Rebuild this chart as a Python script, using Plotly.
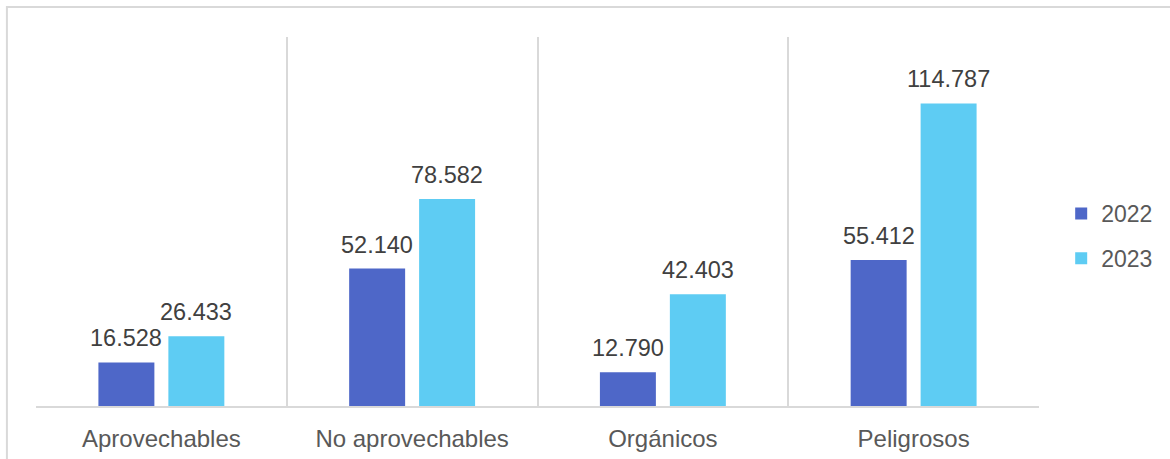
import plotly.graph_objects as go

categories = ["Aprovechables", "No aprovechables", "Orgánicos", "Peligrosos"]
series_names = ["2022", "2023"]
values_2022 = [16.528, 52.140, 12.790, 55.412]
values_2023 = [26.433, 78.582, 42.403, 114.787]
labels_2022 = ["16.528", "52.140", "12.790", "55.412"]
labels_2023 = ["26.433", "78.582", "42.403", "114.787"]
colors = ["#4E67C8", "#5ECCF3"]

FONT = "Liberation Sans, Arial, sans-serif"

fig = go.Figure()
for name, vals, col in zip(series_names, [values_2022, values_2023], colors):
    fig.add_trace(go.Bar(x=categories, y=vals, name=name, marker_color=col,
                         marker_line_width=0, legendgroup=name))

annotations = []
for vals, labs, shift in [(values_2022, labels_2022, -35), (values_2023, labels_2023, 35)]:
    for c, v, t in zip(categories, vals, labs):
        annotations.append(dict(x=c, y=v, text=t, showarrow=False, xshift=shift,
                                yanchor="bottom", yshift=9,
                                font=dict(family=FONT, size=23.5, color="#404040")))

fig.update_layout(
    width=1170, height=459,
    margin=dict(l=36, r=131, t=37, b=53, autoexpand=False),
    plot_bgcolor="white", paper_bgcolor="white",
    barmode="group", bargap=0.442, bargroupgap=0.2,
    font=dict(family=FONT, size=23, color="#595959"),
    annotations=annotations,
    legend=dict(xref="container", yref="container", x=0.907, y=0.486,
                xanchor="left", yanchor="middle",
                font=dict(family=FONT, size=23, color="#595959"),
                tracegroupgap=12, itemwidth=30, bgcolor="rgba(0,0,0,0)"),
    shapes=[dict(type="rect", xref="paper", yref="paper",
                 x0=-0.029, x1=1.2, y0=-0.3, y1=1.081,
                 line=dict(color="#d9d9d9", width=2), fillcolor="rgba(0,0,0,0)",
                 layer="below")],
)
fig.update_xaxes(type="category", tickson="boundaries", showgrid=True,
                 gridcolor="#d9d9d9", gridwidth=2, showline=True,
                 linecolor="#d9d9d9", linewidth=2, ticks="",
                 ticklabelstandoff=10, automargin=False,
                 tickfont=dict(family=FONT, size=24, color="#595959"))
fig.update_yaxes(range=[0, 140], showgrid=False, showticklabels=False,
                 zeroline=False, showline=False, automargin=False)

fig.write_html("out.html", config={"displayModeBar": False},
               post_script="document.body.style.margin='0px';document.body.style.overflow='hidden';")
